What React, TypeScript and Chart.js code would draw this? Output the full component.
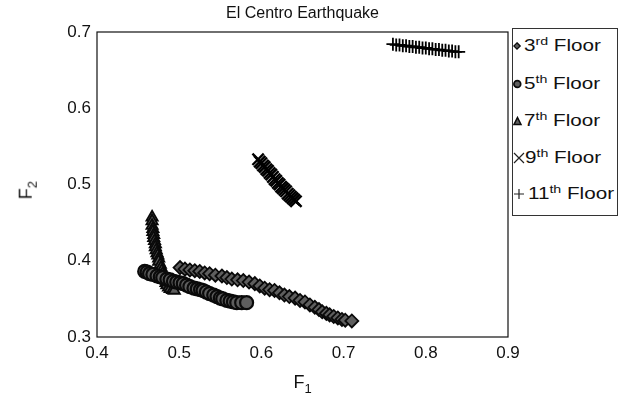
import React, { useEffect, useRef } from 'react';
import { Chart, registerables } from 'chart.js';

Chart.register(...registerables);

const FONT = '"Liberation Sans", Arial, Helvetica, sans-serif';

const xTicks = [0.4, 0.5, 0.6, 0.7, 0.8, 0.9];
const yTicks = [0.3, 0.4, 0.5, 0.6, 0.7];

const floorNumbers = ['3', '5', '7', '9', '11'];
const floorSuffixes = ['rd', 'th', 'th', 'th', 'th'];

const floor3 = [
  [0.501, 0.391], [0.507, 0.389], [0.513, 0.388], [0.519, 0.387], [0.525, 0.386],
  [0.531, 0.384], [0.537, 0.383], [0.544, 0.381], [0.552, 0.380], [0.558, 0.378],
  [0.564, 0.376], [0.571, 0.375], [0.578, 0.374], [0.585, 0.372], [0.592, 0.370],
  [0.598, 0.367], [0.604, 0.364], [0.610, 0.362], [0.616, 0.361], [0.622, 0.358],
  [0.628, 0.355], [0.634, 0.353], [0.641, 0.351], [0.647, 0.348], [0.653, 0.346],
  [0.659, 0.342], [0.665, 0.339], [0.670, 0.336], [0.674, 0.333], [0.679, 0.331],
  [0.683, 0.329], [0.688, 0.327], [0.693, 0.325], [0.698, 0.323], [0.702, 0.322],
  [0.710, 0.321],
];

const floor5 = [
  [0.458, 0.386], [0.461, 0.385], [0.464, 0.383], [0.468, 0.382], [0.473, 0.380],
  [0.477, 0.379], [0.480, 0.378], [0.485, 0.376], [0.489, 0.375], [0.493, 0.373],
  [0.497, 0.372], [0.501, 0.371], [0.505, 0.370], [0.509, 0.368], [0.513, 0.366],
  [0.518, 0.364], [0.522, 0.363], [0.526, 0.362], [0.529, 0.361], [0.533, 0.359],
  [0.537, 0.357], [0.542, 0.355], [0.546, 0.353], [0.550, 0.351], [0.553, 0.350],
  [0.558, 0.348], [0.562, 0.347], [0.566, 0.346], [0.570, 0.345], [0.576, 0.345],
  [0.582, 0.345],
];

const floor7 = [
  [0.467, 0.457], [0.467, 0.452], [0.467, 0.446], [0.468, 0.442], [0.468, 0.438],
  [0.469, 0.434], [0.469, 0.430], [0.470, 0.426], [0.471, 0.422], [0.471, 0.418],
  [0.472, 0.414], [0.473, 0.410], [0.474, 0.407], [0.475, 0.403], [0.475, 0.399],
  [0.477, 0.395], [0.478, 0.391], [0.479, 0.387], [0.480, 0.383], [0.482, 0.379],
  [0.483, 0.375], [0.484, 0.371], [0.485, 0.368], [0.487, 0.365], [0.489, 0.363],
  [0.492, 0.362], [0.494, 0.361],
];

const floor9 = [
  [0.596, 0.533], [0.598, 0.530], [0.600, 0.528], [0.602, 0.525], [0.604, 0.523],
  [0.606, 0.520], [0.608, 0.518], [0.610, 0.515], [0.612, 0.513], [0.614, 0.510],
  [0.616, 0.507], [0.618, 0.505], [0.620, 0.502], [0.622, 0.500], [0.624, 0.497],
  [0.626, 0.495], [0.628, 0.493], [0.630, 0.491], [0.632, 0.488], [0.634, 0.486],
  [0.636, 0.484], [0.638, 0.482], [0.640, 0.480], [0.642, 0.478],
];

const floor11 = [
  [0.760, 0.684], [0.764, 0.683], [0.768, 0.683], [0.772, 0.682], [0.776, 0.682],
  [0.780, 0.681], [0.784, 0.681], [0.788, 0.680], [0.792, 0.680], [0.796, 0.679],
  [0.800, 0.679], [0.804, 0.678], [0.808, 0.678], [0.812, 0.677], [0.816, 0.677],
  [0.820, 0.676], [0.824, 0.676], [0.828, 0.675], [0.832, 0.675], [0.836, 0.674],
  [0.840, 0.674],
];

const GRAY = '#5e5e5e';
const EDGE = '#0a0a0a';

const AREA = { left: 97, right: 508, top: 32, bottom: 337 };
const W = 619;
const H = 409;

const toPts = (arr: number[][]) => arr.map(([x, y]) => ({ x, y }));

const boxPlugin = {
  id: 'boxPlugin',
  beforeDatasetsDraw(chart: any) {
    const { ctx, chartArea } = chart;
    ctx.save();
    ctx.strokeStyle = '#111';
    ctx.lineWidth = 1.2;
    ctx.strokeRect(chartArea.left, chartArea.top, chartArea.right - chartArea.left, chartArea.bottom - chartArea.top);
    ctx.restore();
  },
};

function LegendMarker({ i }: { i: number }) {
  if (i === 0) {
    return (
      <svg width="10" height="10" style={{ display: 'block' }}>
        <polygon points="4,1.8 7.2,5 4,8.2 0.8,5" fill={GRAY} stroke={EDGE} strokeWidth="1.3" />
      </svg>
    );
  }
  if (i === 1) {
    return (
      <svg width="10" height="10" style={{ display: 'block' }}>
        <circle cx="4.3" cy="5" r="3.4" fill={GRAY} stroke={EDGE} strokeWidth="1.7" />
      </svg>
    );
  }
  if (i === 2) {
    return (
      <svg width="10" height="10" style={{ display: 'block' }}>
        <polygon points="4.5,1.5 8,8.5 1,8.5" fill={GRAY} stroke={EDGE} strokeWidth="1.5" />
      </svg>
    );
  }
  if (i === 3) {
    return (
      <svg width="12" height="12" style={{ display: 'block' }}>
        <path d="M1,1 L11,11 M11,1 L1,11" stroke="#222" strokeWidth="1.2" />
      </svg>
    );
  }
  return (
    <svg width="12" height="12" style={{ display: 'block' }}>
      <path d="M6,1 L6,11 M1,6 L11,6" stroke="#222" strokeWidth="1.2" />
    </svg>
  );
}

export default function App() {
  const canvasRef = useRef<HTMLCanvasElement | null>(null);

  useEffect(() => {
    if (!canvasRef.current) return;
    const chart = new Chart(canvasRef.current, {
      type: 'scatter',
      data: {
        datasets: [
          {
            label: '3rd Floor',
            data: toPts(floor3),
            pointStyle: 'rectRot',
            pointRadius: 6.5,
            backgroundColor: GRAY,
            borderColor: EDGE,
            borderWidth: 1.8,
          },
          {
            label: '5th Floor',
            data: toPts(floor5),
            pointStyle: 'circle',
            pointRadius: 6.5,
            backgroundColor: GRAY,
            borderColor: EDGE,
            borderWidth: 2.2,
          },
          {
            label: '7th Floor',
            data: toPts(floor7),
            pointStyle: 'triangle',
            pointRadius: 6.5,
            backgroundColor: GRAY,
            borderColor: EDGE,
            borderWidth: 1.8,
          },
          {
            label: '9th Floor',
            data: toPts(floor9),
            pointStyle: 'crossRot',
            pointRadius: 8,
            backgroundColor: '#000',
            borderColor: '#000',
            borderWidth: 2.4,
          },
          {
            label: '11th Floor',
            data: toPts(floor11),
            pointStyle: 'cross',
            pointRadius: 6.5,
            backgroundColor: '#000',
            borderColor: '#000',
            borderWidth: 1.8,
          },
        ],
      },
      options: {
        animation: false,
        responsive: false,
        maintainAspectRatio: false,
        devicePixelRatio: 1,
        layout: {
          padding: { left: 0, top: AREA.top, right: W - AREA.right, bottom: 0 },
        },
        plugins: {
          legend: { display: false },
          tooltip: { enabled: false },
          title: { display: false },
        },
        scales: {
          x: {
            type: 'linear',
            min: 0.4,
            max: 0.9,
            grid: { display: false, drawTicks: false },
            border: { display: false },
            afterBuildTicks: (s: any) => {
              s.ticks = xTicks.map((v) => ({ value: v }));
            },
            afterFit: (s: any) => {
              s.height = H - AREA.bottom;
            },
            ticks: {
              padding: 6,
              color: '#111',
              font: { family: FONT, size: 17 },
              maxRotation: 0,
              callback: (v: any) => Number(v).toFixed(1),
            },
          },
          y: {
            type: 'linear',
            min: 0.3,
            max: 0.7,
            grid: { display: false, drawTicks: false },
            border: { display: false },
            afterBuildTicks: (s: any) => {
              s.ticks = yTicks.map((v) => ({ value: v }));
            },
            afterFit: (s: any) => {
              s.width = AREA.left;
            },
            ticks: {
              padding: 6,
              color: '#111',
              font: { family: FONT, size: 17 },
              callback: (v: any) => Number(v).toFixed(1),
            },
          },
        },
      },
      plugins: [boxPlugin],
    } as any);
    return () => chart.destroy();
  }, []);

  const legendCenters = [17, 55, 92, 129, 165];
  const markerSize = [10, 10, 10, 12, 12];
  const textLeft = [11, 11, 11, 12, 15];

  return (
    <div style={{ position: 'fixed', left: 0, top: 0, width: W, height: H, background: '#fff', fontFamily: FONT, color: '#111' }}>
      <canvas ref={canvasRef} width={W} height={H} style={{ position: 'absolute', left: 0, top: 0, width: W, height: H }} />
      <div style={{ position: 'absolute', left: AREA.left, width: AREA.right - AREA.left, top: 4, textAlign: 'center', fontSize: 16, lineHeight: '18px' }}>
        El Centro Earthquake
      </div>
      <div style={{ position: 'absolute', left: AREA.left, width: AREA.right - AREA.left, top: 372, textAlign: 'center', fontSize: 18, lineHeight: '20px' }}>
        F<sub style={{ fontSize: 13 }}>1</sub>
      </div>
      <div style={{ position: 'absolute', left: 29, top: 187, width: 0, height: 0 }}>
        <div style={{ position: 'absolute', left: -30, top: -10, width: 60, textAlign: 'center', fontSize: 18, lineHeight: '20px', transform: 'rotate(-90deg)' }}>
          F<sub style={{ fontSize: 13 }}>2</sub>
        </div>
      </div>
      <div style={{ position: 'absolute', left: 512, top: 28, width: 106, height: 188, border: '1px solid #333', boxSizing: 'border-box', background: '#fff', overflow: 'hidden' }}>
        {floorNumbers.map((n, i) => (
          <React.Fragment key={i}>
            <div style={{ position: 'absolute', left: 0, top: legendCenters[i] - markerSize[i] / 2 }}>
              <LegendMarker i={i} />
            </div>
            <div
              style={{
                position: 'absolute',
                left: textLeft[i],
                top: legendCenters[i] - 11,
                height: 22,
                lineHeight: '22px',
                whiteSpace: 'nowrap',
                fontSize: 16,
                transform: 'scaleX(1.29)',
                transformOrigin: 'left center',
              }}
            >
              {n}
              <sup style={{ fontSize: 11, verticalAlign: 'super', lineHeight: 0 }}>{floorSuffixes[i]}</sup> Floor
            </div>
          </React.Fragment>
        ))}
      </div>
    </div>
  );
}
